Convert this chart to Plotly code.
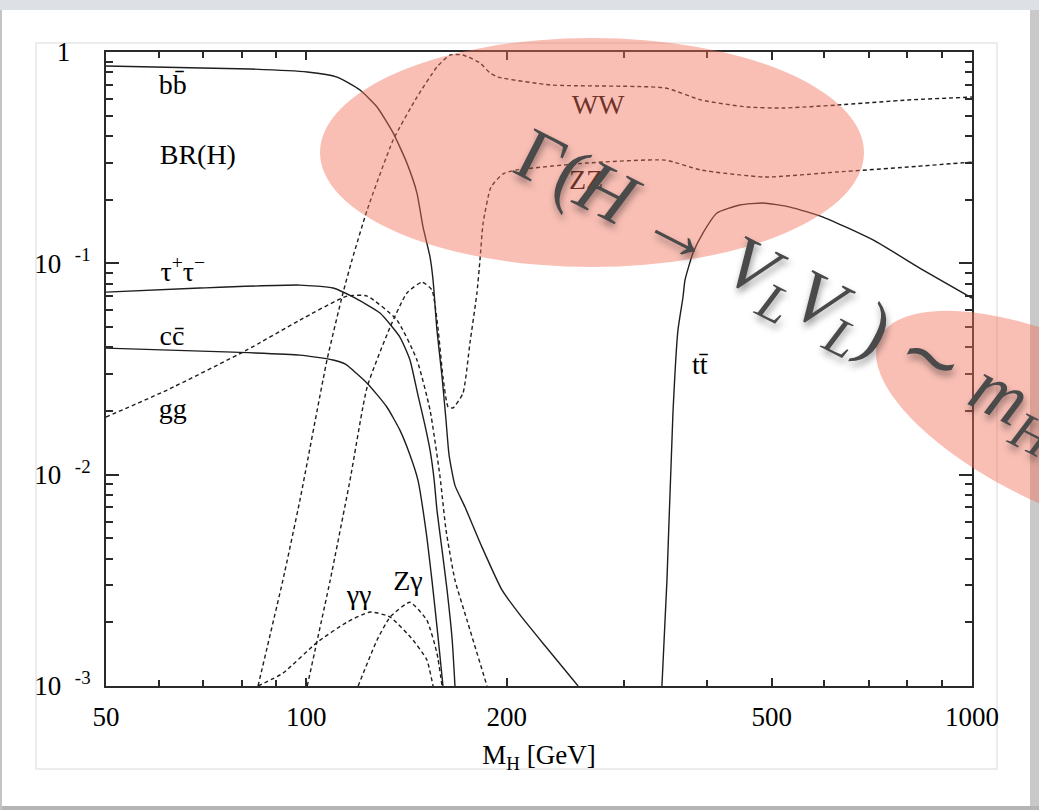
import numpy as np
import plotly.graph_objects as go

# ---------------- data ----------------
mh_bb = [50, 82.3, 100.3, 111.2, 120.4, 127.7, 135.0, 141.6, 146.6, 149.7, 153.4, 155.0,
         157.1, 159.9, 162.1, 163.8, 167.2, 173.1, 183.6, 196.8, 209.4, 228.3, 256]
br_bb = [0.858, 0.831, 0.804, 0.761, 0.661, 0.549, 0.414, 0.298, 0.215, 0.1486, 0.107, 0.0833,
         0.0483, 0.029, 0.0181, 0.0124, 0.0089, 0.00703, 0.00454, 0.00284, 0.00217, 0.00155, 0.001]

mh_tau = [50, 69.2, 97.8, 109.7, 117.5, 129.0, 138.2, 143.1, 147.1, 150.7, 153.4, 155.6,
          157.1, 159.9, 162.7, 165.6, 167.2]
br_tau = [0.0731, 0.0764, 0.0789, 0.0764, 0.0693, 0.0582, 0.0448, 0.0349, 0.0238, 0.01717,
          0.01307, 0.00943, 0.0068, 0.0044, 0.00284, 0.00165, 0.001]

mh_cc = [50, 77.6, 97.8, 109.7, 114.3, 123.4, 132.1, 138.2, 143.1, 147.1, 151.2, 154.4, 157.6, 160.4]
br_cc = [0.0397, 0.038, 0.0368, 0.0349, 0.0334, 0.0271, 0.0209, 0.01625, 0.0124, 0.00943,
         0.00547, 0.00317, 0.00174, 0.001]

mh_gg = [50, 61.8, 81.4, 97.8, 115.1, 123.4, 136.8, 146.6, 153.4, 158.8, 162.1, 167.2, 174.3, 186.8]
br_gg = [0.01874, 0.02515, 0.0389, 0.0539, 0.070, 0.070, 0.0539, 0.0349, 0.0202, 0.00974,
         0.00547, 0.00317, 0.00205, 0.001]

mh_aa = [84.6, 92.2, 103.8, 115.1, 124.7, 133.6, 144.6, 151.7, 155.0]
br_aa = [0.001, 0.00115, 0.00161, 0.002006, 0.00224, 0.00212, 0.00165, 0.00133, 0.001]

mh_za = [119.6, 127.7, 133.6, 143.1, 151.7, 157.1, 159.9]
br_za = [0.001, 0.00165, 0.00212, 0.00249, 0.00205, 0.00143, 0.001]

mh_ww = [84.6, 92.2, 97.8, 107.4, 113.5, 117.1, 123.4, 135.0, 146.6, 157.1, 164.4, 171.9,
         182.3, 188.7, 194.0, 233.0, 345.8, 391.6, 459.3, 520, 626.6, 801.1, 1000]
br_ww = [0.001, 0.00317, 0.00758, 0.0349, 0.0724, 0.1037, 0.1788, 0.383, 0.612, 0.849, 0.968,
         0.968, 0.887, 0.796, 0.761, 0.698, 0.676, 0.593, 0.549, 0.543, 0.561, 0.593, 0.612]

mh_zz = [100.3, 108.6, 116.3, 123.4, 133.6, 141.6, 149.2, 154.4, 157.6, 160.4, 163.3, 166.1,
         171.9, 176.1, 180.4, 182.3, 184.3, 189.4, 197.5, 206.5, 264.1, 345.8, 391.6, 488.8,
         626.6, 801.1, 1000]
br_zz = [0.001, 0.00317, 0.00943, 0.026, 0.0499, 0.0724, 0.0815, 0.0748, 0.0499, 0.029, 0.0209,
         0.0207, 0.0243, 0.042, 0.0724, 0.1037, 0.155, 0.2298, 0.265, 0.2763, 0.2983, 0.308,
         0.2763, 0.256, 0.2705, 0.2855, 0.3015]

mh_tt = [342.1, 348.1, 355.4, 361.6, 368.0, 370.5, 380.9, 394.2, 413.9, 448.2, 485.2, 533.0,
         597.5, 710.0, 844.5, 1000]
br_tt = [0.001, 0.00317, 0.01956, 0.0483, 0.0693, 0.0833, 0.1119, 0.139, 0.173, 0.1888, 0.193,
         0.1846, 0.1656, 0.129, 0.0929, 0.0685]

label_text = ["bb\u0304", "BR(H)", "\u03c4<sup>+</sup>\u03c4<sup>\u2212</sup>", "cc\u0304", "gg",
              "\u03b3\u03b3", "Z\u03b3", "WW", "ZZ", "tt\u0304"]
label_mh = [63.0, 68.7, 65.2, 62.8, 63.0, 120.0, 142.1, 274.3, 263.1, 390.1]
label_br = [0.683, 0.319, 0.089, 0.0443, 0.020, 0.00264, 0.00307, 0.549, 0.2425, 0.0323]

x_tickvals = [50, 100, 200, 500, 1000]
x_ticktext = ["50", "100", "200", "500", "1000"]
x_minor = [60, 70, 80, 90, 300, 400, 600, 700, 800, 900]
y_tickvals = [0.001, 0.01, 0.1, 1]
y_ticktext = ["10\u00a0\u00a0<sup>-3</sup>", "10\u00a0\u00a0<sup>-2</sup>",
              "10\u00a0\u00a0<sup>-1</sup>", "1\u00a0\u00a0\u00a0"]
y_minor = [k * 10.0 ** e for e in (-3, -2, -1) for k in range(2, 10)]

formula = ("\u0393(<i>H</i> \u2192 <i>V</i><sub><i>L</i></sub><i>V</i><sub><i>L</i></sub>) "
           "\u223c <i>m</i><sub><i>H</i></sub><sup>3</sup>")

# ---------------- geometry helpers ----------------
W, H = 1039, 810
L, R, T, B = 106, 972, 52, 686


def px(x, y):
    return (x - L) / (R - L), (B - y) / (B - T)


FONT = "Liberation Serif"
INK = "#1e1e1e"

fig = go.Figure()

solid = dict(color=INK, width=1.4, shape="spline", smoothing=0.5)
dashed = dict(color=INK, width=1.4, dash="4px,3px", shape="spline", smoothing=0.5)

for name, xs, ys, ln in [
    ("bb", mh_bb, br_bb, solid), ("tautau", mh_tau, br_tau, solid), ("cc", mh_cc, br_cc, solid),
    ("gg", mh_gg, br_gg, dashed), ("gamgam", mh_aa, br_aa, dashed), ("Zgam", mh_za, br_za, dashed),
    ("WW", mh_ww, br_ww, dashed), ("ZZ", mh_zz, br_zz, dashed), ("tt", mh_tt, br_tt, solid)]:
    fig.add_trace(go.Scatter(x=xs, y=ys, mode="lines", line=ln, name=name,
                             hoverinfo="skip", cliponaxis=True))

fig.add_trace(go.Scatter(x=label_mh, y=label_br, mode="text", text=label_text,
                         textposition="middle center",
                         textfont=dict(family=FONT, size=28, color="black"),
                         hoverinfo="skip"))

shapes = []


def rect(x0, y0, x1, y1, **kw):
    a = px(x0, y0); b = px(x1, y1)
    d = dict(type="rect", xref="paper", yref="paper", x0=a[0], y0=a[1], x1=b[0], y1=b[1])
    d.update(kw)
    return d


# slide frame
shapes.append(rect(0, 0, W, 10, fillcolor="#dde0e5", line=dict(width=0), layer="below"))
shapes.append(rect(1030, 10, W, H, fillcolor="#c9c9c9", line=dict(width=0), layer="below"))
shapes.append(rect(0, 806, W, H, fillcolor="#b5b5b5", line=dict(width=0), layer="below"))
shapes.append(rect(0, 10, 2, H, fillcolor="#c4c4c4", line=dict(width=0), layer="below"))
shapes.append(rect(36, 43, 997, 769, line=dict(color="#e6e6e6", width=1.5), layer="below"))

# translucent red highlights
HL = "rgba(242,112,92,0.45)"
a = px(320, 267); b = px(864, 38)
shapes.append(dict(type="circle", xref="paper", yref="paper", x0=a[0], y0=a[1], x1=b[0], y1=b[1],
                   fillcolor=HL, line=dict(width=0), layer="above"))
cx, cy, ea, eb, th = 1065, 425, 205, 82, np.radians(25)
t = np.linspace(0, 2 * np.pi, 120)
ex = cx + ea * np.cos(t) * np.cos(th) - eb * np.sin(t) * np.sin(th)
ey = cy + ea * np.cos(t) * np.sin(th) + eb * np.sin(t) * np.cos(th)
pts = [px(u, v) for u, v in zip(ex, ey)]
path = "M " + " L ".join(f"{p[0]:.5f},{p[1]:.5f}" for p in pts) + " Z"
shapes.append(dict(type="path", xref="paper", yref="paper", path=path,
                   fillcolor=HL, line=dict(width=0), layer="above"))

fx, fy = px(802, 290)
annotations = [dict(xref="paper", yref="paper", x=fx, y=fy, text=formula, showarrow=False,
                    textangle=27, xanchor="center", yanchor="middle",
                    font=dict(family=FONT, size=75, color="#4a4a4a",
                              shadow="3px 4px 7px rgba(0,0,0,0.4)"))]

axis_common = dict(showgrid=False, zeroline=False, showline=True, linecolor="#2a2a2a",
                   linewidth=2, mirror="ticks", ticks="inside", tickcolor="#2a2a2a",
                   tickwidth=1.5, tickfont=dict(family=FONT, size=27, color="black"))

fig.update_xaxes(type="log", range=[np.log10(50), 3], tickmode="array",
                 tickvals=x_tickvals, ticktext=x_ticktext, ticklen=8,
                 ticklabelstandoff=6,
                 minor=dict(ticks="inside", tickmode="array", tickvals=x_minor, ticklen=6,
                            tickcolor="#2a2a2a", tickwidth=1.5),
                 title=dict(text="M<sub>H</sub> [GeV]", font=dict(family=FONT, size=27, color="black"),
                            standoff=14),
                 **axis_common)
fig.update_yaxes(type="log", range=[-3, 0], tickmode="array", tickvals=y_tickvals,
                 ticktext=y_ticktext, ticklen=13, ticklabelstandoff=8,
                 minor=dict(ticks="inside", tickmode="array", tickvals=y_minor, ticklen=7,
                            tickcolor="#2a2a2a", tickwidth=1.5),
                 **axis_common)

fig.update_layout(width=W, height=H, autosize=False,
                  margin=dict(l=L, r=W - R, t=T, b=H - B, pad=0),
                  paper_bgcolor="white", plot_bgcolor="white", showlegend=False,
                  hovermode=False, shapes=shapes, annotations=annotations,
                  font=dict(family=FONT))

fig.write_html("out.html", config={"displayModeBar": False},
               post_script="document.body.style.margin='0px';")
